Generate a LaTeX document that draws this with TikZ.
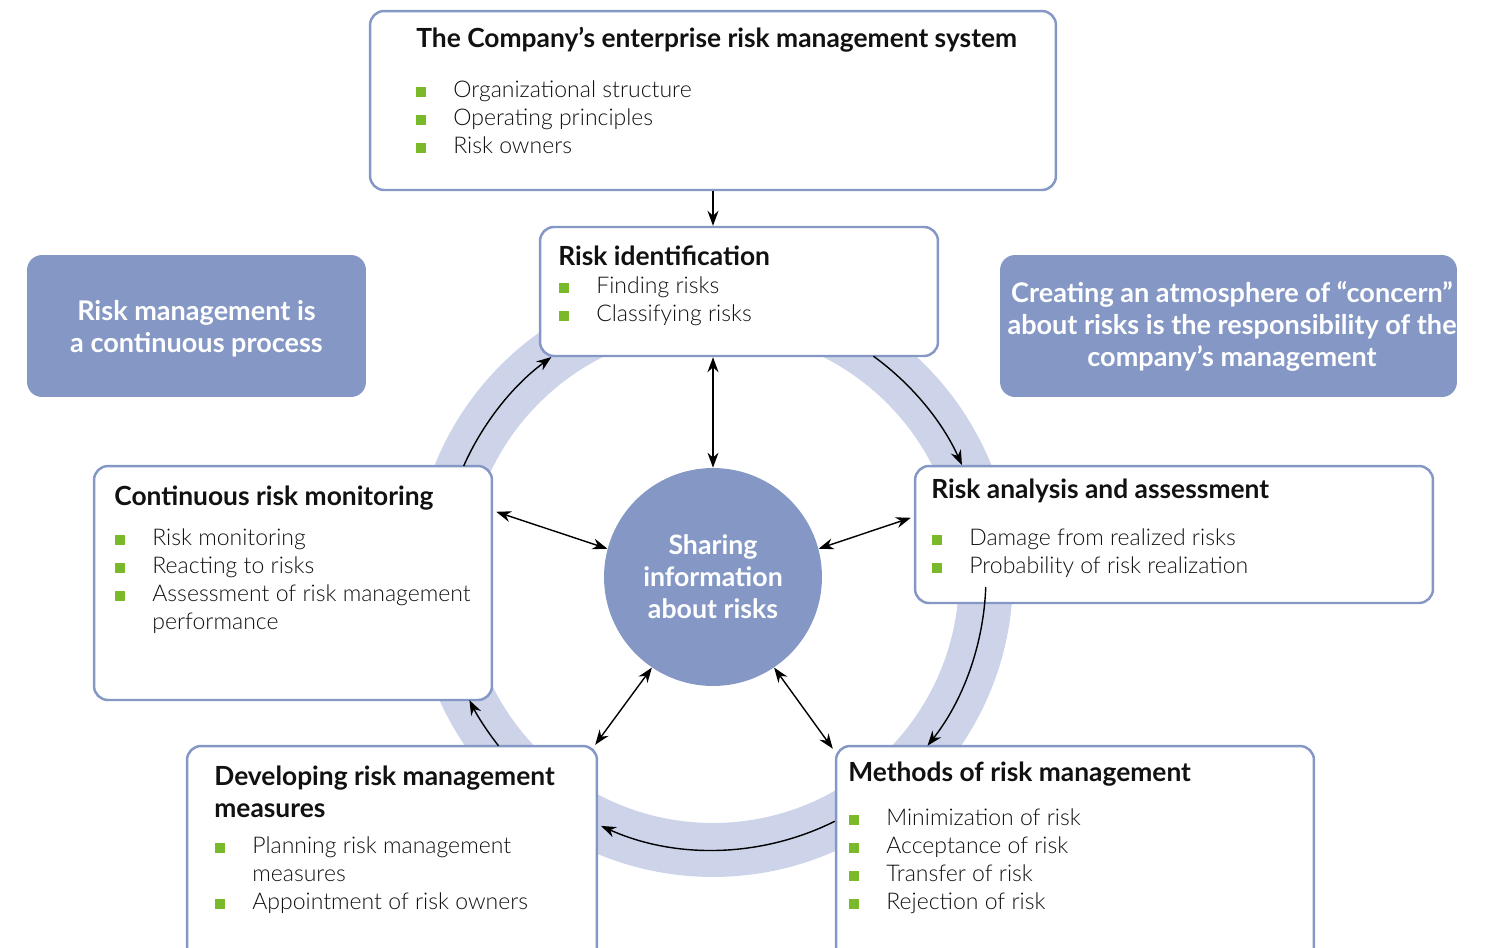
\documentclass[tikz,border=0pt]{standalone}
\usepackage{fontspec}
\setmainfont{Lato}
\newfontfamily\lightfont{Lato Light}
\usetikzlibrary{arrows.meta,calc}
\definecolor{boxblue}{HTML}{8497C5}
\definecolor{ringc}{HTML}{CDD4E9}
\definecolor{bulgreen}{HTML}{7AB929}
\definecolor{txt}{HTML}{111111}
\newcommand\bul{{\color{bulgreen}\rule{0.2cm}{0.2cm}}\hspace{0.54cm}}
\newcommand\itm[4]{\node[itm] (#1) at (#2,#3) {\bul #4};}
\newcommand\cnt[4]{\node[itm] (#1) at (#2,#3) {#4};}
\newcommand\ttl[4]{\node[ttl] (#1) at (#2,#3) {#4};}
\begin{document}
\begin{tikzpicture}[x=0.02cm,y=0.02cm,
 box/.style={draw=boxblue, line width=1.4pt, fill=white, rounded corners=0.28cm, inner sep=0},
 bluebox/.style={fill=boxblue, rounded corners=0.3cm, text=white, font=\bfseries\fontsize{15.4pt}{18.2pt}\selectfont, align=center, inner sep=0},
 ttl/.style={anchor=base west, inner sep=0, text=txt, font=\bfseries\fontsize{15pt}{16pt}\selectfont},
 itm/.style={anchor=base west, inner sep=0, text=txt, font=\lightfont\fontsize{13.1pt}{16pt}\selectfont},
 arr/.style={-{Stealth[length=0.3cm,width=0.22cm]}, line width=0.8pt, black},
 darr/.style={{Stealth[length=0.3cm,width=0.22cm]}-{Stealth[length=0.3cm,width=0.22cm]}, line width=0.8pt, black}]
\useasboundingbox (0,0) rectangle (1501,-947);
\clip (0,0) rectangle (1501,-947);
\coordinate (ctr) at (713,-577);
\draw[ringc, line width=1.08cm] (ctr) circle[radius=5.46cm];
\node[circle, fill=boxblue, minimum size=4.36cm, inner sep=0, text=white, align=center,
  font=\bfseries\fontsize{15.2pt}{18.2pt}\selectfont] (circ) at (ctr) {Sharing\\information\\about risks};
% boxes
\node[box, minimum width=13.72cm, minimum height=3.58cm] (top) at (713,-100.5) {};
\node[box, minimum width=7.96cm, minimum height=2.58cm] (riskid) at (739,-291.5) {};
\node[box, minimum width=7.96cm, minimum height=4.68cm] (cont) at (293,-583) {};
\node[box, minimum width=10.36cm, minimum height=2.74cm] (ana) at (1174,-534.5) {};
\node[box, minimum width=9.56cm, minimum height=4.48cm] (meth) at (1075,-858) {};
\node[box, minimum width=8.2cm, minimum height=4.48cm] (dev) at (392,-858) {};
\node[bluebox, minimum width=6.78cm, minimum height=2.84cm] (lblue) at (196.5,-326) {};
\node[text=white, align=center, inner sep=0, font=\bfseries\fontsize{15.4pt}{18.2pt}\selectfont] (lbluet) at (196.5,-329) {Risk management is\\a continuous process};
\node[bluebox, minimum width=9.14cm, minimum height=2.84cm] (rblue) at (1228.5,-326) {};
\node[text=white, align=center, inner sep=0, font=\bfseries\fontsize{15.4pt}{18.2pt}\selectfont] (rbluet) at (1232,-326) {Creating an atmosphere of “concern”\\about risks is the responsibility of the\\company’s management};
% texts
\ttl{t0}{416}{-47}{The Company’s enterprise risk management system}
\itm{t0a}{416}{-97}{Organizational structure}
\itm{t0b}{416}{-125}{Operating principles}
\itm{t0c}{416}{-153}{Risk owners}
\ttl{t1}{558}{-265}{Risk identification}
\itm{t1a}{559}{-293}{Finding risks}
\itm{t1b}{559}{-321}{Classifying risks}
\ttl{t2}{114}{-505}{Continuous risk monitoring}
\itm{t2a}{115}{-545}{Risk monitoring}
\itm{t2b}{115}{-573}{Reacting to risks}
\itm{t2c}{115}{-601}{Assessment of risk management}
\cnt{t2d}{152}{-629}{performance}
\ttl{t3}{931}{-498}{Risk analysis and assessment}
\itm{t3a}{932}{-545}{Damage from realized risks}
\itm{t3b}{932}{-573}{Probability of risk realization}
\ttl{t4}{848}{-781}{Methods of risk management}
\itm{t4a}{849}{-825}{Minimization of risk}
\itm{t4b}{849}{-853}{Acceptance of risk}
\itm{t4c}{849}{-881}{Transfer of risk}
\itm{t4d}{849}{-909}{Rejection of risk}
\ttl{t5}{214}{-785}{Developing risk management}
\ttl{t5x}{214}{-817}{measures}
\itm{t5a}{215}{-853}{Planning risk management}
\cnt{t5b}{252}{-881}{measures}
\itm{t5c}{215}{-909}{Appointment of risk owners}
% straight connectors
\draw[arr] (top.south) -- (top.south |- riskid.north);
\draw[darr] (riskid.south -| circ.north) -- (circ.north);
\draw[darr] ($(cont.north east)+(3,-47)$) -- (circ.165);
\draw[darr] ($(ana.north west)+(-3,-53)$) -- (circ.15);
\draw[darr] ($(dev.north east)+(-3,0)$) -- (circ.236);
\draw[darr] ($(meth.north west)+(-2,-4)$) -- (circ.304);
% cycle arcs
\draw[arr] ($(ctr)+(54:5.46cm)$) arc[start angle=54, end angle=24.2, radius=5.46cm];
\draw[arr] ($(ctr)+(-2.1:5.46cm)$) arc[start angle=-2.1, end angle=-38.2, radius=5.46cm];
\draw[arr] ($(ctr)+(-63.5:5.46cm)$) arc[start angle=-63.5, end angle=-114.2, radius=5.46cm];
\draw[arr] ($(ctr)+(-141.8:5.46cm)$) arc[start angle=-141.8, end angle=-153.2, radius=5.46cm];
\draw[arr] ($(ctr)+(156:5.46cm)$) arc[start angle=156, end angle=126.3, radius=5.46cm];
\end{tikzpicture}
\end{document}
